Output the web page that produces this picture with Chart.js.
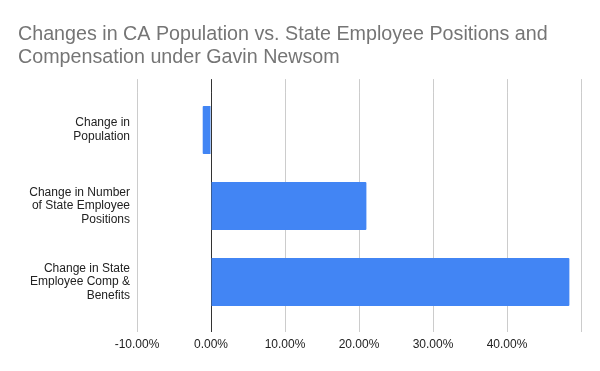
<!DOCTYPE html>
<html>
<head>
<meta charset="utf-8">
<script src="https://cdn.jsdelivr.net/npm/chart.js@4"></script>
<style>
  html, body { margin: 0; padding: 0; background: #fff; }
  #wrap { width: 600px; height: 371px; }
</style>
</head>
<body>
<div id="wrap"><canvas id="chart" width="600" height="371"></canvas></div>
<script>
// data
var categories = [
  ["Change in", "Population"],
  ["Change in Number", "of State Employee", "Positions"],
  ["Change in State", "Employee Comp &", "Benefits"]
];
var changePct = [-1.12, 21.0, 48.43];
var axisMin = -10;
var axisMax = 50;
var axisStep = 10;

var FONT = "'Liberation Sans', Arial, sans-serif";

function gridColor(ctx) {
  return ctx.tick && ctx.tick.value === 0 ? "#333333" : "#cccccc";
}

var ctx = document.getElementById("chart");

var chart = new Chart(ctx, {
  type: "bar",
  data: {
    labels: categories,
    datasets: [{
      data: changePct,
      backgroundColor: "#4285f4",
      borderWidth: 0,
      borderRadius: 1,
      barPercentage: 0.632,
      categoryPercentage: 1
    }]
  },
  options: {
    indexAxis: "y",
    responsive: false,
    animation: false,
    layout: { padding: { left: 18, right: 19, top: 23, bottom: 0 } },
    plugins: {
      legend: { display: false },
      tooltip: { enabled: false },
      title: {
        display: true,
        align: "start",
        text: ["Changes in CA Population vs. State Employee Positions and",
               "Compensation under Gavin Newsom"],
        color: "#757575",
        font: { family: FONT, size: 19.7, weight: "normal", lineHeight: 1.17 },
        padding: { top: 0, bottom: 10 }
      }
    },
    scales: {
      x: {
        type: "linear",
        position: "bottom",
        min: axisMin,
        max: axisMax,
        border: { display: false },
        grid: { color: gridColor, tickLength: 12, lineWidth: 1 },
        ticks: {
          stepSize: axisStep,
          padding: 5,
          color: "#222222",
          font: { family: FONT, size: 12 },
          maxRotation: 0,
          callback: function(v) {
            if (v === axisMax) return "";
            return v.toFixed(2) + "%";
          }
        },
        afterFit: function(scale) { scale.height = 51; }
      },
      x2: {
        type: "linear",
        position: "top",
        min: axisMin,
        max: axisMax,
        border: { display: false },
        grid: { color: gridColor, tickLength: 13, drawOnChartArea: false },
        ticks: {
          stepSize: axisStep,
          padding: 0,
          color: "rgba(0,0,0,0)",
          font: { size: 1 },
          callback: function() { return " "; }
        },
        afterFit: function(scale) { scale.height = 13; }
      },
      y: {
        border: { display: false },
        grid: { display: false, drawTicks: false },
        ticks: {
          padding: 7,
          color: "#222222",
          font: { family: FONT, size: 12, lineHeight: 1.15 }
        },
        afterFit: function(scale) { scale.width = 119; }
      }
    }
  }
});
</script>
</body>
</html>
